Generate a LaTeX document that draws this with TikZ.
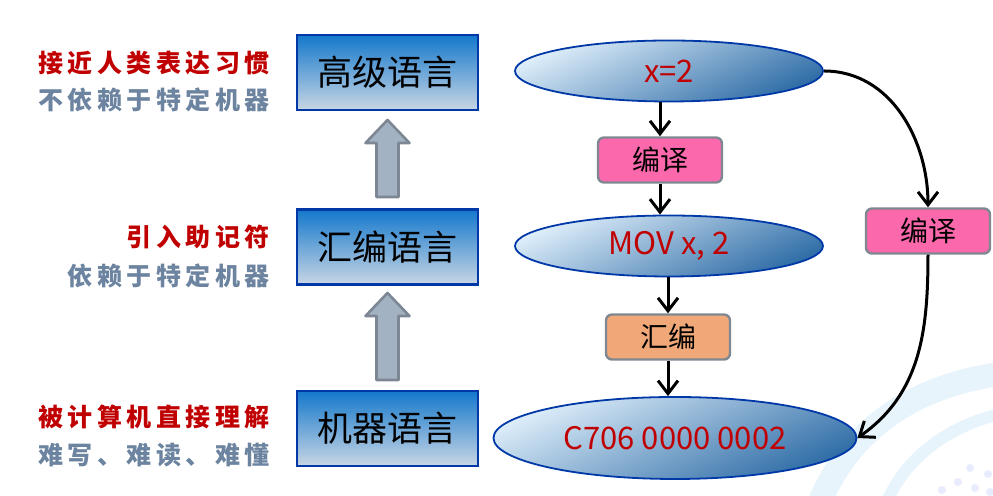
\documentclass[tikz,border=0pt]{standalone}
\usepackage{fontspec}
\setmainfont{Noto Sans CJK SC}
\newfontfamily\brush[LetterSpace=18]{Noto Sans CJK SC}
\usetikzlibrary{shapes.geometric,arrows.meta}
\definecolor{tred}{RGB}{192,0,0}
\definecolor{tgray}{RGB}{108,132,160}
\definecolor{boxblue}{RGB}{0,56,168}
\definecolor{boxtop}{RGB}{20,120,204}
\definecolor{boxbot}{RGB}{200,214,228}
\definecolor{elltop}{RGB}{222,238,250}
\definecolor{ellbot}{RGB}{46,108,166}
\definecolor{toolgray}{RGB}{127,136,144}
\definecolor{pinkfill}{RGB}{252,104,172}
\definecolor{orangefill}{RGB}{240,168,120}
\definecolor{upfill}{RGB}{163,178,194}
\definecolor{updraw}{RGB}{125,135,148}
\definecolor{swoosh}{RGB}{232,244,252}

\begin{document}
\begin{tikzpicture}[x=0.5pt,y=0.5pt,
    lang/.style={draw=boxblue,line width=1.2pt,top color=boxtop,bottom color=boxbot,
        minimum width=90.5pt,minimum height=37.5pt,inner sep=0pt,font=\fontsize{17.5}{20}\selectfont},
    code/.style={ellipse,draw=boxblue,line width=0.9pt,top color=elltop,bottom color=ellbot,
        shading angle=25,inner sep=0pt,text=tred,font=\fontsize{15.5}{18}\selectfont},
    tool/.style={draw=toolgray,line width=1.2pt,rounded corners=3pt,minimum width=62pt,
        minimum height=22.5pt,inner sep=0pt,font=\fontsize{14}{16}\selectfont},
    note/.style={anchor=east,inner sep=0pt,font=\brush\bfseries\fontsize{12.5}{14}\selectfont},
    flow/.style={-{Straight Barb[length=6.5pt,width=10pt]},line width=1.5pt},
    up/.style={fill=upfill,draw=updraw,line width=1.3pt,line join=round}]
    \useasboundingbox (0,0) rectangle (993,496);

    % Background swoosh in the corner
    \begin{scope}
        \clip (0,0) rectangle (993,496);
        \draw[swoosh,line width=12pt] (818,-10) .. controls (855,80) and (930,112) .. (1000,122);
        \draw[swoosh,line width=6pt] (885,-10) .. controls (905,40) and (950,70) .. (1000,82);
        \foreach \x/\y in {975/8, 958/14, 988/22, 942/6, 970/28, 990/4}
            \fill[swoosh!85!blue!40] (\x,\y) circle (4);
    \end{scope}

    % Language levels
    \node[lang] (high) at (387.5,423.5) {高级语言};
    \node[lang] (asm) at (387.5,249) {汇编语言};
    \node[lang] (mach) at (387.5,67.5) {机器语言};

    % Up arrows between levels
    \foreach \t/\b in {376/299, 203/116}
        \draw[up] (376.5,\b) -- (398.5,\b) -- (398.5,\t-23) -- (409.5,\t-23) -- (387.5,\t)
            -- (365.5,\t-23) -- (376.5,\t-23) -- cycle;

    % Notes on the left
    \node[note,text=tred] (n1) at (270,433) {接近人类表达习惯};
    \node[note,text=tgray] (n2) at (270,396) {不依赖于特定机器};
    \node[note,text=tred] (n3) at (270,259) {引入助记符};
    \node[note,text=tgray] (n4) at (270,220) {依赖于特定机器};
    \node[note,text=tred] (n5) at (270,79) {被计算机直接理解};
    \node[note,text=tgray] (n6) at (270,41) {难写、难读、难懂};

    % Code examples
    \node[code,minimum width=154pt,minimum height=30.5pt] (src) at (669,425) {x=2};
    \node[code,minimum width=154pt,minimum height=30.5pt] (mov) at (669,250) {MOV x, 2};
    \node[code,minimum width=181.5pt,minimum height=41pt] (bin) at (675,58) {C706 0000 0002};

    % Translators
    \node[tool,fill=pinkfill] (comp1) at (660,336) {编译};
    \node[tool,fill=orangefill] (assem) at (668,159) {汇编};
    \node[tool,fill=pinkfill] (comp2) at (928,265) {编译};

    % Connectors
    \draw[flow] (comp1.north |- src.south) -- (comp1.north);
    \draw[flow] (comp1.south) -- (comp1.south |- mov.north);
    \draw[flow] (assem.north |- mov.south) -- (assem.north);
    \draw[flow] (assem.south) -- (assem.south |- bin.north);
    \draw[flow] (src.east) to[out=0,in=90] (comp2.north);
    \draw[flow] (comp2.south) to[out=-90,in=35] (bin.east);
\end{tikzpicture}
\end{document}
